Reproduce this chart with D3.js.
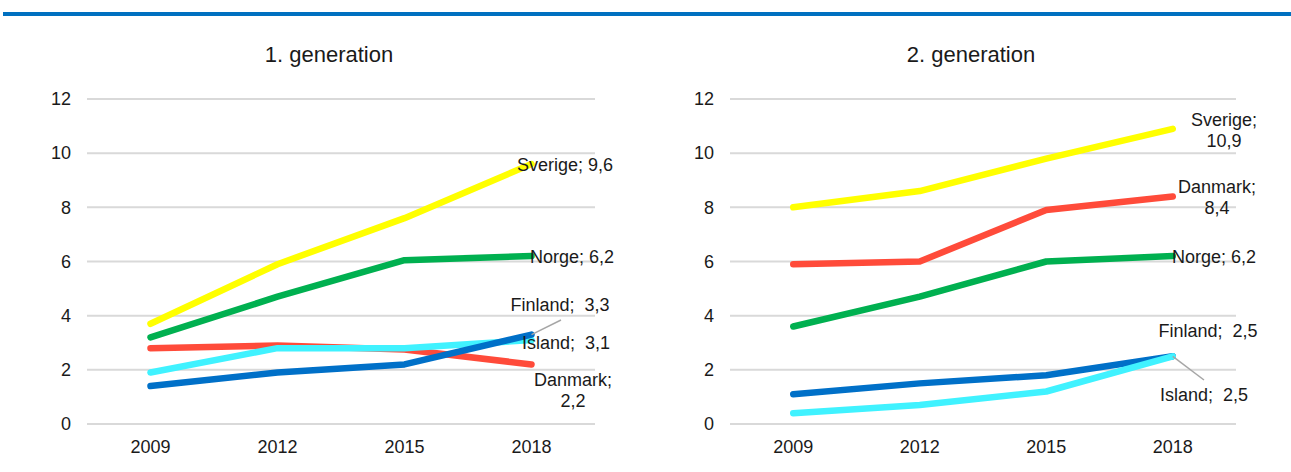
<script src="https://d3js.org/d3.v7.min.js"></script>
<style>
  body { margin: 0; background: #fff; }
  text { font-family: "Liberation Sans", Arial, sans-serif; fill: #1a1a1a; }
</style>
<div id="my_dataviz"></div>
<script>

// data
var years = ["2009", "2012", "2015", "2018"];
var yTicks = [0, 2, 4, 6, 8, 10, 12];

var gen1Sverige = [3.7, 5.9, 7.6, 9.6];
var gen1Norge   = [3.2, 4.7, 6.05, 6.2];
var gen1Danmark = [2.8, 2.9, 2.75, 2.2];
var gen1Island  = [1.9, 2.8, 2.8, 3.1];
var gen1Finland = [1.4, 1.9, 2.2, 3.3];

var gen2Sverige = [8.0, 8.6, 9.8, 10.9];
var gen2Danmark = [5.9, 6.0, 7.9, 8.4];
var gen2Norge   = [3.6, 4.7, 6.0, 6.2];
var gen2Finland = [1.1, 1.5, 1.8, 2.5];
var gen2Island  = [0.4, 0.7, 1.2, 2.5];

var color = {
  Sverige: "#ffff00",
  Norge: "#00b050",
  Danmark: "#ff4b3a",
  Island: "#40f2ff",
  Finland: "#0070c8"
};

var W = 1291, H = 472;
var svg = d3.select("#my_dataviz").append("svg")
  .attr("width", W).attr("height", H);

// blue rule at the top
svg.append("rect").attr("x", 3).attr("y", 12).attr("width", W - 3).attr("height", 4)
  .style("fill", "#0070c0");

var panels = [
  {
    title: "1. generation", titleX: 329, left: 87, right: 595, tickX: 71,
    series: [
      {name: "Danmark", values: gen1Danmark},
      {name: "Island", values: gen1Island},
      {name: "Finland", values: gen1Finland},
      {name: "Norge", values: gen1Norge},
      {name: "Sverige", values: gen1Sverige}
    ],
    labels: [
      {lines: ["Sverige;\u00a09,6"], x: 565, y: 165},
      {lines: ["Norge;\u00a06,2"], x: 572, y: 257},
      {lines: ["Finland;\u00a0\u00a03,3"], x: 560, y: 305, leader: [561, 320]},
      {lines: ["Island;\u00a0\u00a03,1"], x: 566, y: 343},
      {lines: ["Danmark;", "2,2"], x: 573, y: 380}
    ]
  },
  {
    title: "2. generation", titleX: 971, left: 730, right: 1236, tickX: 714,
    series: [
      {name: "Finland", values: gen2Finland},
      {name: "Island", values: gen2Island},
      {name: "Norge", values: gen2Norge},
      {name: "Danmark", values: gen2Danmark},
      {name: "Sverige", values: gen2Sverige}
    ],
    labels: [
      {lines: ["Sverige;", "10,9"], x: 1224, y: 120},
      {lines: ["Danmark;", "8,4"], x: 1217, y: 187},
      {lines: ["Norge;\u00a06,2"], x: 1214, y: 257},
      {lines: ["Finland;\u00a0\u00a02,5"], x: 1208, y: 331},
      {lines: ["Island;\u00a0\u00a02,5"], x: 1204, y: 395, leader: [1204, 380]}
    ]
  }
];

var y = d3.scaleLinear().domain([0, 12]).range([424, 99]);

panels.forEach(function(p) {
  var g = svg.append("g");

  var x = d3.scaleBand().domain(years).range([p.left, p.right]);
  var cx = function(i) { return x(years[i]) + x.bandwidth() / 2; };

  g.append("text")
    .attr("x", p.titleX).attr("y", 62)
    .attr("text-anchor", "middle")
    .style("font-size", "22px")
    .text(p.title);

  // gridlines
  g.selectAll(".grid").data(yTicks).enter().append("line")
    .attr("x1", p.left).attr("x2", p.right)
    .attr("y1", function(d) { return y(d); })
    .attr("y2", function(d) { return y(d); })
    .style("stroke", "#d9d9d9").style("stroke-width", 2);

  // y tick labels
  g.selectAll(".ytick").data(yTicks).enter().append("text")
    .attr("x", p.tickX).attr("y", function(d) { return y(d); })
    .attr("dy", "0.35em")
    .attr("text-anchor", "end")
    .style("font-size", "18px")
    .text(function(d) { return d; });

  // x tick labels
  g.selectAll(".xtick").data(years).enter().append("text")
    .attr("x", function(d) { return x(d) + x.bandwidth() / 2; })
    .attr("y", 453)
    .attr("text-anchor", "middle")
    .style("font-size", "18px")
    .text(function(d) { return d; });

  var line = d3.line()
    .x(function(d, i) { return cx(i); })
    .y(function(d) { return y(d); });

  g.selectAll(".series").data(p.series).enter().append("path")
    .attr("d", function(d) { return line(d.values); })
    .style("fill", "none")
    .style("stroke", function(d) { return color[d.name]; })
    .style("stroke-width", 6.5)
    .style("stroke-linecap", "round")
    .style("stroke-linejoin", "round");

  // data labels
  p.labels.forEach(function(l) {
    var s = p.series.filter(function(d) { return l.lines[0].indexOf(d.name) === 0; })[0];
    if (l.leader) {
      var last = s.values[s.values.length - 1];
      g.append("line")
        .attr("x1", l.leader[0]).attr("y1", l.leader[1])
        .attr("x2", cx(3)).attr("y2", y(last))
        .style("stroke", "#a6a6a6").style("stroke-width", 1.5);
    }
    var t = g.append("text")
      .attr("text-anchor", "middle")
      .style("font-size", "18px");
    l.lines.forEach(function(str, j) {
      t.append("tspan")
        .attr("x", l.x)
        .attr("y", l.y + j * 21)
        .attr("dy", "0.35em")
        .text(str);
    });
  });
});

</script>
